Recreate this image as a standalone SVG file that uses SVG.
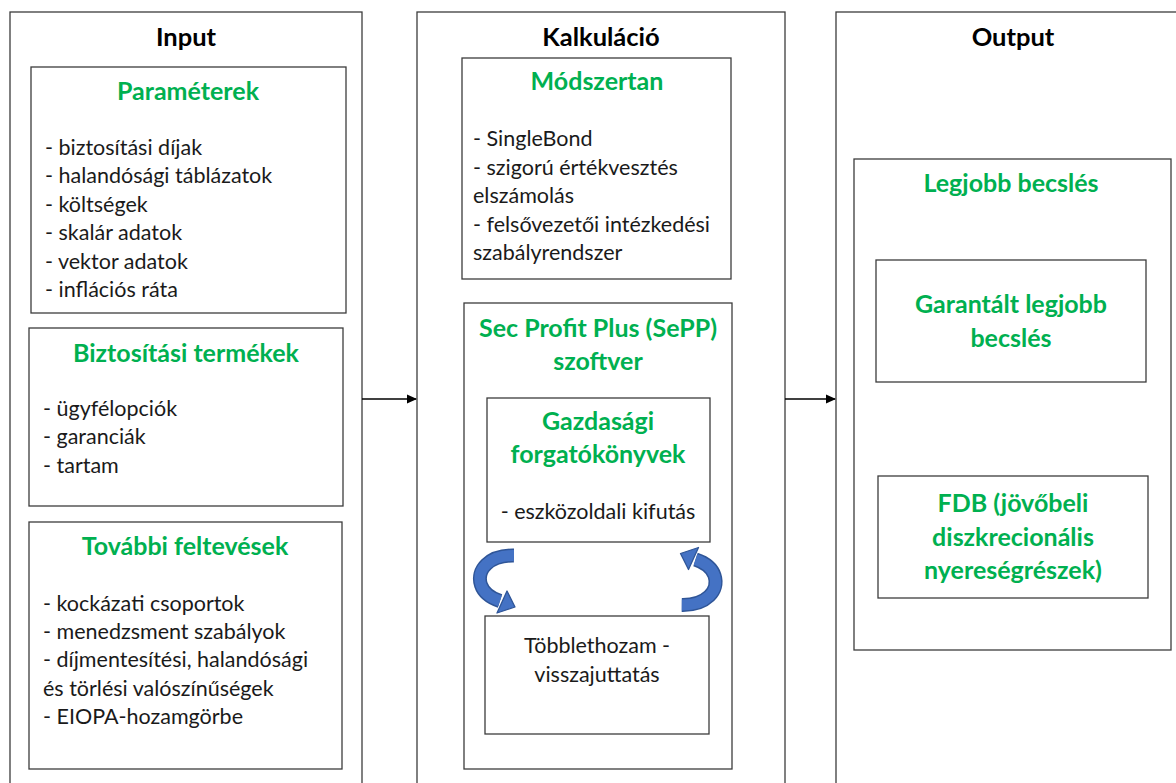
<svg xmlns="http://www.w3.org/2000/svg" width="1176" height="783" viewBox="0 0 1176 783">
<style>
.box{fill:#fff;stroke:#3c3c3c;stroke-width:1.3}
.ttl{font-family:Lato,"Liberation Sans",sans-serif;font-weight:bold;font-size:25.5px;fill:#000;text-anchor:middle}
.hd{font-family:Lato,"Liberation Sans",sans-serif;font-weight:bold;font-size:25px;fill:#00B050;text-anchor:middle}
.it{font-family:Lato,"Liberation Sans",sans-serif;font-size:21.5px;fill:#1a1a1a}
.itc{font-family:Lato,"Liberation Sans",sans-serif;font-size:21.5px;fill:#1a1a1a;text-anchor:middle}
.con{stroke:#000;stroke-width:1.3;fill:none}
</style>
<defs>
<marker id="ah" markerWidth="10" markerHeight="10" refX="9" refY="5" orient="auto" markerUnits="userSpaceOnUse">
<path d="M0,0.5 L10,5 L0,9.5 z" fill="#000"/>
</marker>
<g id="curv">
<path d="M514,555.5 C489,555 476,570 481,585 C484,594 491,598 500,601" fill="none" stroke="#2F5597" stroke-width="14"/>
<path d="M514,555.5 C489,555 476,570 481,585 C484,594 491,598 500,601" fill="none" stroke="#4472C4" stroke-width="11"/>
<rect x="514" y="547" width="4" height="17" fill="#fff"/>
<polygon points="515,607 497,613 507,591" fill="#4472C4" stroke="#2F5597" stroke-width="1.3" stroke-linejoin="round"/>
</g>
</defs>
<rect width="1176" height="783" fill="#fff"/>

<g id="input">
<rect class="box" x="10" y="12" width="352" height="790"/>
<text class="ttl" x="186" y="46">Input</text>
</g>
<g id="parameterek">
<rect class="box" x="31" y="67" width="315" height="246"/>
<text class="hd" x="188" y="100">Paraméterek</text>
<text class="it" x="45" y="155">- biztosítási díjak</text>
<text class="it" x="45" y="183">- halandósági táblázatok</text>
<text class="it" x="45" y="212">- költségek</text>
<text class="it" x="45" y="240">- skalár adatok</text>
<text class="it" x="45" y="269">- vektor adatok</text>
<text class="it" x="45" y="297">- inflációs ráta</text>
</g>
<g id="termekek">
<rect class="box" x="29" y="328" width="314" height="178"/>
<text class="hd" x="186" y="362">Biztosítási termékek</text>
<text class="it" x="43" y="416">- ügyfélopciók</text>
<text class="it" x="43" y="444">- garanciák</text>
<text class="it" x="43" y="473">- tartam</text>
</g>
<g id="feltevesek">
<rect class="box" x="29" y="522" width="313" height="247"/>
<text class="hd" x="185" y="555">További feltevések</text>
<text class="it" x="43" y="611">- kockázati csoportok</text>
<text class="it" x="43" y="639">- menedzsment szabályok</text>
<text class="it" x="43" y="667">- díjmentesítési, halandósági</text>
<text class="it" x="43" y="696">és törlési valószínűségek</text>
<text class="it" x="43" y="724">- EIOPA-hozamgörbe</text>
</g>

<g id="kalkulacio">
<rect class="box" x="417" y="12" width="368" height="790"/>
<text class="ttl" x="601" y="46">Kalkuláció</text>
</g>
<g id="modszertan">
<rect class="box" x="462" y="58" width="269" height="221"/>
<text class="hd" x="597" y="90">Módszertan</text>
<text class="it" x="473" y="146">- SingleBond</text>
<text class="it" x="473" y="175">- szigorú értékvesztés</text>
<text class="it" x="473" y="203">elszámolás</text>
<text class="it" x="473" y="232">- felsővezetői intézkedési</text>
<text class="it" x="473" y="260">szabályrendszer</text>
</g>
<g id="sepp">
<rect class="box" x="464" y="303" width="268" height="466"/>
<text class="hd" x="598" y="337">Sec Profit Plus (SePP)</text>
<text class="hd" x="598" y="370">szoftver</text>
</g>
<g id="gazdasagi">
<rect class="box" x="487" y="398" width="223" height="144"/>
<text class="hd" x="598" y="430">Gazdasági</text>
<text class="hd" x="598" y="463">forgatókönyvek</text>
<text class="itc" x="598" y="519">- eszközoldali kifutás</text>
</g>
<g id="tobblethozam">
<rect class="box" x="485" y="616" width="224" height="118"/>
<text class="itc" x="597" y="653">Többlethozam -</text>
<text class="itc" x="597" y="682">visszajuttatás</text>
</g>
<g id="loop">
<use href="#curv"/>
<use href="#curv" transform="rotate(180 597.75 580.25)"/>
</g>

<g id="output">
<rect class="box" x="836" y="12" width="360" height="790"/>
<text class="ttl" x="1013" y="46">Output</text>
</g>
<g id="legjobb">
<rect class="box" x="854" y="159" width="317" height="491"/>
<text class="hd" x="1011" y="192">Legjobb becslés</text>
</g>
<g id="garantalt">
<rect class="box" x="876" y="260" width="270" height="122"/>
<text class="hd" x="1011" y="313">Garantált legjobb</text>
<text class="hd" x="1011" y="347">becslés</text>
</g>
<g id="fdb">
<rect class="box" x="878" y="476" width="270" height="122"/>
<text class="hd" x="1013" y="512">FDB (jövőbeli</text>
<text class="hd" x="1013" y="546">diszkrecionális</text>
<text class="hd" x="1013" y="579">nyereségrészek)</text>
</g>

<g id="connectors">
<line class="con" x1="362" y1="399" x2="416" y2="399" marker-end="url(#ah)"/>
<line class="con" x1="785" y1="399" x2="835" y2="399" marker-end="url(#ah)"/>
</g>
</svg>
